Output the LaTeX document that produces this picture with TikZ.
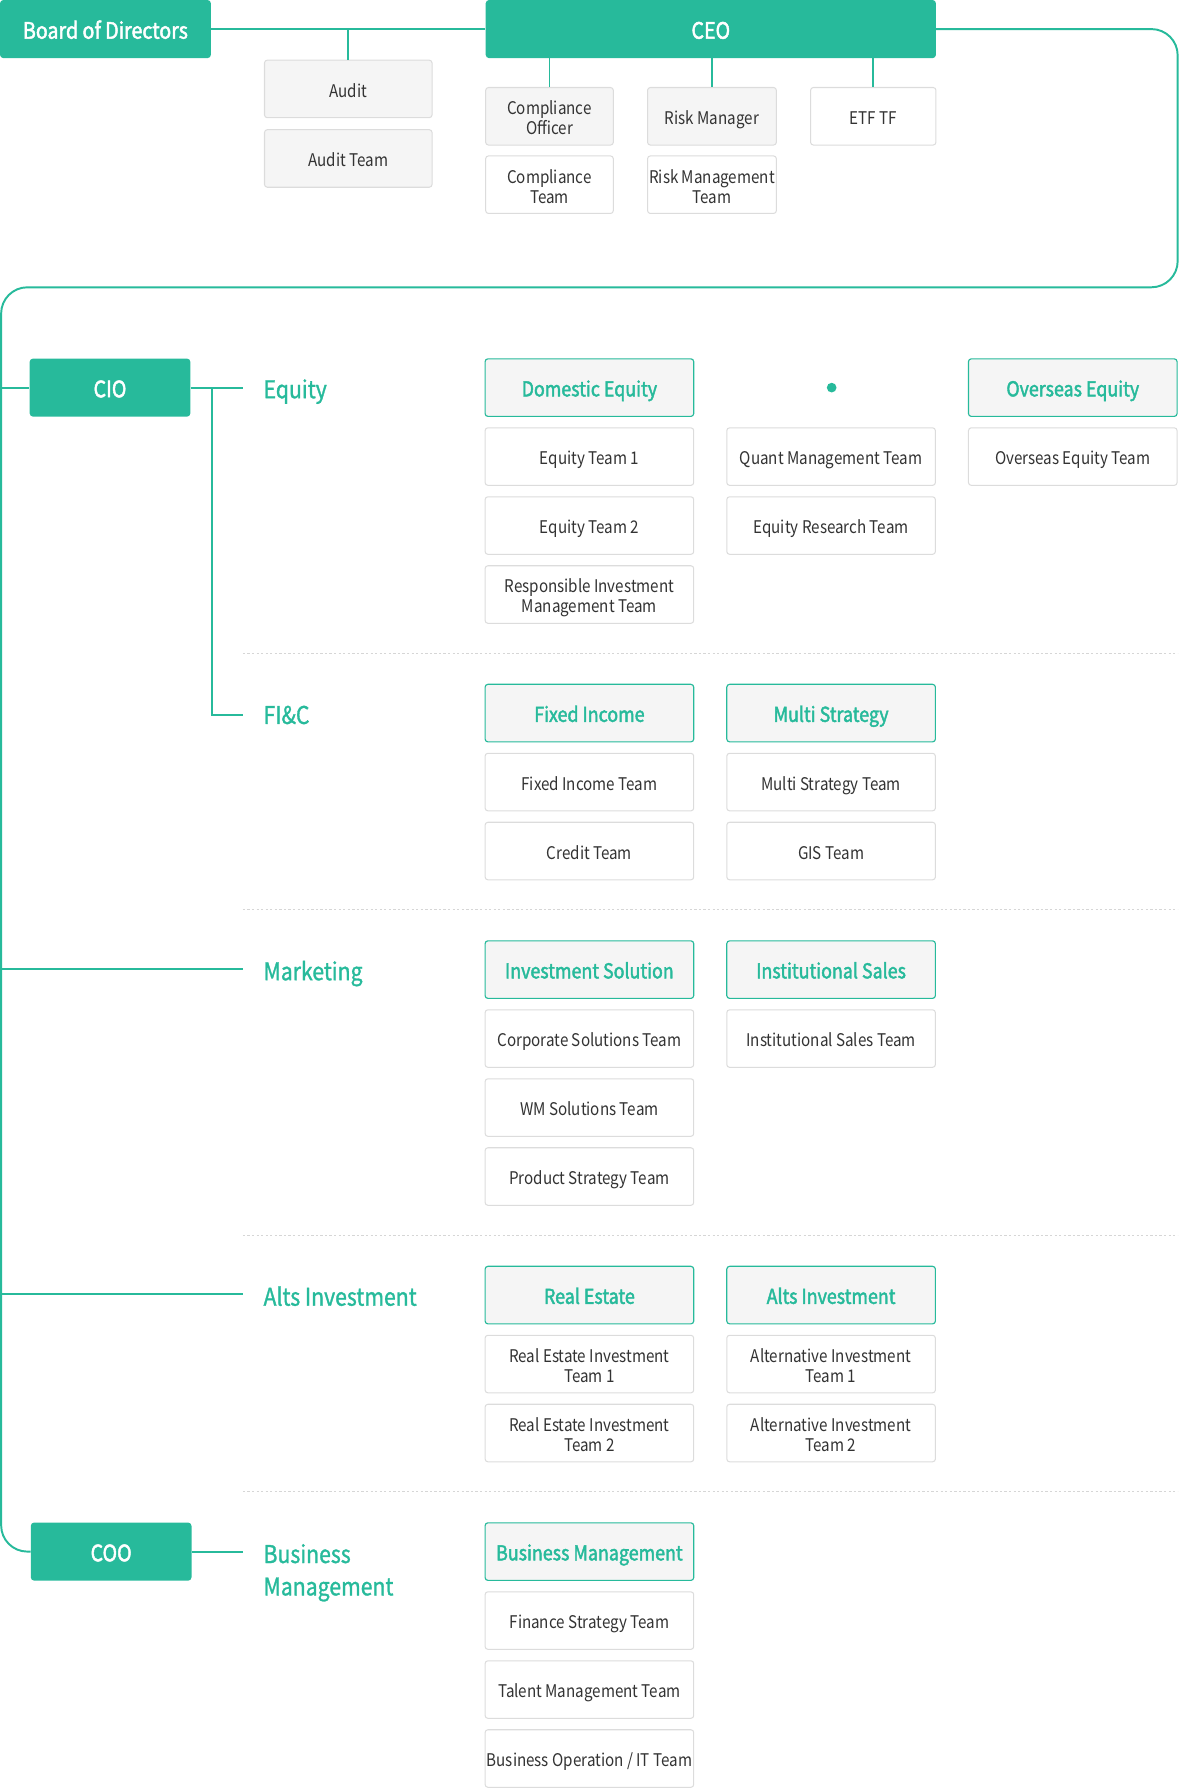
\documentclass[tikz,border=0pt]{standalone}
\usepackage{fontspec}
\setmainfont{Noto Sans CJK KR}[FakeStretch=0.87]
\newfontfamily\medfont{Noto Sans CJK KR}[FakeStretch=0.87,FakeBold=2]
\newfontfamily\labfont{Noto Sans CJK KR}[FakeStretch=0.87,FakeBold=1.2]
\definecolor{teal1}{HTML}{27BA9B}
\definecolor{txt}{HTML}{333333}
\definecolor{bord}{HTML}{DCDCDC}
\definecolor{grayf}{HTML}{F5F5F5}
\definecolor{sepc}{HTML}{D6D6D6}
\newcommand{\bodytxt}[1]{\rule{0pt}{1.25em}#1\rule[-0.29em]{0pt}{0pt}}
\newcommand{\headtxt}[1]{\rule{0pt}{1.15em}#1\rule[-0.297em]{0pt}{0pt}}
\tikzset{
  topbox/.style={fill=teal1, text=white, rounded corners=3pt, inner sep=0pt, font=\medfont\fontsize{19.8}{22}\selectfont},
  greybox/.style={fill=grayf, draw=bord, line width=0.9pt, rounded corners=2.5pt, text=txt, inner sep=0pt, align=center, font=\fontsize{15.3}{17.5}\selectfont},
  whitebox/.style={greybox, fill=white},
  headbox/.style={fill=grayf, draw=teal1, line width=1pt, rounded corners=2.5pt, text=teal1, inner sep=0pt, align=center, font=\medfont\fontsize{18}{20}\selectfont},
  catlabel/.style={text=teal1, anchor=base west, inner sep=0pt, align=left, font=\labfont\fontsize{21.4}{28.4}\selectfont},
  link/.style={draw=teal1, line width=1.7pt},
  sepline/.style={draw=sepc, line width=1pt, dash pattern=on 2pt off 2pt},
  colw/.style={minimum width=183pt, minimum height=50.5pt},
}
\begin{document}
\begin{tikzpicture}[x=1pt,y=-1pt]
\useasboundingbox (0,0) rectangle (1035,1571);

% ---------- top ----------
\node[topbox, minimum width=185pt, minimum height=51pt] (board) at (92.5,25.5) {\headtxt{Board of Directors}};
\node[topbox, minimum width=395pt, minimum height=51pt] (ceo) at (623.5,25.5) {\headtxt{CEO}};

\node[greybox, minimum width=147pt, minimum height=50.5pt] (audit) at (305.5,78) {\bodytxt{Audit}};
\node[greybox, minimum width=147pt, minimum height=50.5pt] (auditteam) at (305.5,139) {\bodytxt{Audit Team}};

\node[greybox, minimum width=112pt, minimum height=50.5pt] (comp) at (482,102) {\bodytxt{Compliance\\Officer}};
\node[whitebox, minimum width=112pt, minimum height=50.5pt] (compteam) at (482,162) {\bodytxt{Compliance\\Team}};
\node[greybox, minimum width=113pt, minimum height=50.5pt] (risk) at (624.5,102) {\bodytxt{Risk Manager}};
\node[whitebox, minimum width=113pt, minimum height=50.5pt] (riskteam) at (624.5,162) {\bodytxt{Risk Management\\Team}};
\node[whitebox, minimum width=110pt, minimum height=50.5pt] (etf) at (766,102) {\bodytxt{ETF TF}};

\draw[link] (board.east) -- (ceo.west);
\draw[link] (audit.north) -- (audit.north |- board.east);
\draw[link] (comp.north) -- (comp.north |- ceo.south);
\draw[link] (risk.north) -- (risk.north |- ceo.south);
\draw[link] (etf.north) -- (etf.north |- ceo.south);

% ---------- executives ----------
\node[topbox, minimum width=141pt, minimum height=51pt] (cio) at (96.5,340) {\headtxt{CIO}};
\node[topbox, minimum width=141pt, minimum height=51pt] (coo) at (97.5,1361) {\headtxt{COO}};

\coordinate (rturn) at (1033,252);
\coordinate (lturn) at (1,1361);
\draw[link, rounded corners=23pt] (ceo.east) -| (rturn) -| (lturn) -- (coo.west);

\coordinate (tcio) at (1,340);
\coordinate (tmkt) at (1,850);
\coordinate (talt) at (1,1135);
\coordinate (eqend) at (213,340);
\coordinate (cbranch) at (186,340);
\coordinate (ficend) at (213,627);
\coordinate (mktend) at (213,850);
\coordinate (altend) at (213,1135);
\coordinate (bmend) at (213,1361);

\draw[link] (tcio) -- (cio.west);
\draw[link] (cio.east) -- (eqend);
\draw[link] (cbranch) |- (ficend);
\draw[link] (tmkt) -- (mktend);
\draw[link] (talt) -- (altend);
\draw[link] (coo.east) -- (bmend);

% ---------- category labels ----------
\node[catlabel] (lequity) at (231,349.3) {Equity};
\node[catlabel] (lfic) at (231,635) {FI\&C};
\node[catlabel] (lmkt) at (231,859.8) {Marketing};
\node[catlabel] (lalt) at (231,1145.3) {Alts Investment};
\node[catlabel] (lbm) at (231,1399.4) {Business\\Management};

% ---------- separators ----------
\coordinate (s1a) at (213,573);  \coordinate (s1b) at (1033,573);
\coordinate (s2a) at (213,798);  \coordinate (s2b) at (1033,798);
\coordinate (s3a) at (213,1084); \coordinate (s3b) at (1033,1084);
\coordinate (s4a) at (213,1308); \coordinate (s4b) at (1033,1308);
\draw[sepline] (s1a) -- (s1b);
\draw[sepline] (s2a) -- (s2b);
\draw[sepline] (s3a) -- (s3b);
\draw[sepline] (s4a) -- (s4b);

% ---------- Equity ----------
\node[headbox, colw] (domeq) at (517,340) {\headtxt{Domestic Equity}};
\node[whitebox, colw] (eq1) at (517,400.5) {\bodytxt{Equity Team 1}};
\node[whitebox, colw] (eq2) at (517,461) {\bodytxt{Equity Team 2}};
\node[whitebox, colw] (rim) at (517,521.5) {\bodytxt{Responsible Investment\\Management Team}};
\node[circle, fill=teal1, inner sep=0pt, minimum size=8.5pt] (dot) at (729.5,340) {};
\node[whitebox, colw] (quant) at (729,400.5) {\bodytxt{Quant Management Team}};
\node[whitebox, colw] (eqres) at (729,461) {\bodytxt{Equity Research Team}};
\node[headbox, colw] (oveq) at (941,340) {\headtxt{Overseas Equity}};
\node[whitebox, colw] (oveqt) at (941,400.5) {\bodytxt{Overseas Equity Team}};

% ---------- FI&C ----------
\node[headbox, colw] (fi) at (517,625.5) {\headtxt{Fixed Income}};
\node[whitebox, colw] (fit) at (517,686) {\bodytxt{Fixed Income Team}};
\node[whitebox, colw] (cred) at (517,746.5) {\bodytxt{Credit Team}};
\node[headbox, colw] (ms) at (729,625.5) {\headtxt{Multi Strategy}};
\node[whitebox, colw] (mst) at (729,686) {\bodytxt{Multi Strategy Team}};
\node[whitebox, colw] (gis) at (729,746.5) {\bodytxt{GIS Team}};

% ---------- Marketing ----------
\node[headbox, colw] (is) at (517,850.5) {\headtxt{Investment Solution}};
\node[whitebox, colw] (cst) at (517,911) {\bodytxt{Corporate Solutions Team}};
\node[whitebox, colw] (wm) at (517,971.5) {\bodytxt{WM Solutions Team}};
\node[whitebox, colw] (ps) at (517,1032) {\bodytxt{Product Strategy Team}};
\node[headbox, colw] (ins) at (729,850.5) {\headtxt{Institutional Sales}};
\node[whitebox, colw] (inst) at (729,911) {\bodytxt{Institutional Sales Team}};

% ---------- Alts ----------
\node[headbox, colw] (re) at (517,1136) {\headtxt{Real Estate}};
\node[whitebox, colw] (re1) at (517,1196.5) {\bodytxt{Real Estate Investment\\Team 1}};
\node[whitebox, colw] (re2) at (517,1257) {\bodytxt{Real Estate Investment\\Team 2}};
\node[headbox, colw] (ai) at (729,1136) {\headtxt{Alts Investment}};
\node[whitebox, colw] (ai1) at (729,1196.5) {\bodytxt{Alternative Investment\\Team 1}};
\node[whitebox, colw] (ai2) at (729,1257) {\bodytxt{Alternative Investment\\Team 2}};

% ---------- Business Management ----------
\node[headbox, colw] (bm) at (517,1361) {\headtxt{Business Management}};
\node[whitebox, colw] (fst) at (517,1421.5) {\bodytxt{Finance Strategy Team}};
\node[whitebox, colw] (tmt) at (517,1482) {\bodytxt{Talent Management Team}};
\node[whitebox, colw] (bo) at (517,1542.5) {\bodytxt{Business Operation / IT Team}};
\end{tikzpicture}
\end{document}
